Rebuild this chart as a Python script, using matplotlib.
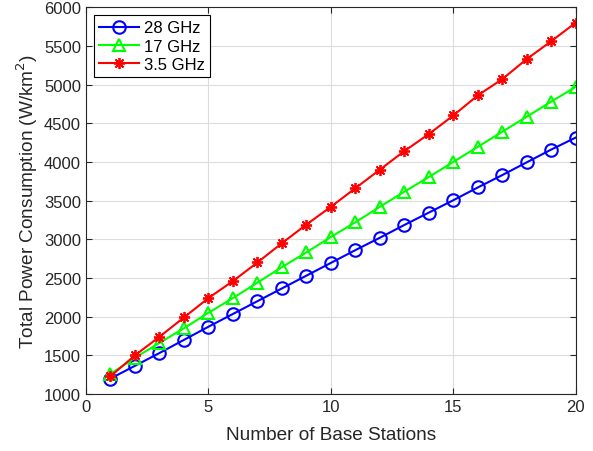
import matplotlib
matplotlib.use("Agg")
import matplotlib.pyplot as plt

plt.rcParams["font.family"] = ["Liberation Sans", "DejaVu Sans"]

n_bs = list(range(1, 21))
p_28ghz = [1200, 1365, 1530, 1700, 1870, 2035, 2200, 2365, 2530, 2695,
           2860, 3020, 3185, 3345, 3505, 3670, 3830, 3995, 4160, 4315]
p_17ghz = [1260, 1470, 1660, 1850, 2050, 2240, 2440, 2640, 2830, 3030,
           3220, 3420, 3615, 3805, 4000, 4195, 4390, 4585, 4780, 4970]
p_35ghz = [1230, 1500, 1740, 1990, 2240, 2460, 2700, 2950, 3190, 3420,
           3660, 3900, 4140, 4360, 4600, 4860, 5070, 5330, 5560, 5800]

fig = plt.figure(figsize=(5.93, 4.52), dpi=100)
ax = fig.add_axes([0.145, 0.126, 0.826, 0.856])

ax.plot(n_bs, p_28ghz, "-o", color="blue", lw=1.5, ms=9, mfc="none", mew=1.5, label="28 GHz")
ax.plot(n_bs, p_17ghz, "-^", color="#00ff00", lw=1.5, ms=9, mfc="none", mew=1.5, label="17 GHz")
ax.plot(n_bs, p_35ghz, "-", color="red", lw=1.5, marker=(8, 2, 0), ms=8, mew=1.3,
        mec="red", label="3.5 GHz")

ax.set_xlim(0, 20)
ax.set_ylim(1000, 6000)
ax.set_xticks([0, 5, 10, 15, 20])
ax.set_yticks(range(1000, 6001, 500))
ax.grid(True, color="#dcdcdc", lw=0.8)
ax.set_axisbelow(True)
ax.tick_params(direction="in", top=True, right=True, labelsize=12, color="#262626",
               labelcolor="#262626", length=4)
for s in ax.spines.values():
    s.set_color("#262626")
    s.set_linewidth(0.8)

ax.set_xlabel("Number of Base Stations", fontsize=13.7, color="#262626", labelpad=9)
ax.set_ylabel("Total Power Consumption (W/km$^2$)", fontsize=13.7, color="#262626", labelpad=3)

leg = ax.legend(loc="upper left", fontsize=12, fancybox=False, edgecolor="black",
                framealpha=1, borderpad=0.3, labelspacing=0.2, handlelength=2.4,
                handletextpad=0.3, borderaxespad=0.5)
leg.get_frame().set_linewidth(0.8)

fig.savefig("out.png", dpi=100)
